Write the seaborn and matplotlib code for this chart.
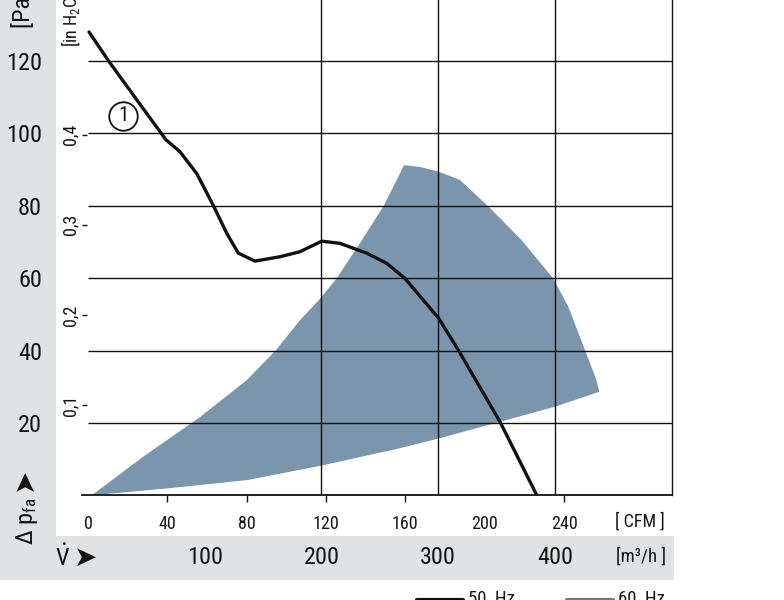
import numpy as np
import pandas as pd
import matplotlib
matplotlib.use("Agg")
import matplotlib.pyplot as plt
import seaborn as sns
from matplotlib.patches import Rectangle
from matplotlib.lines import Line2D
from matplotlib import font_manager

# ---------------- data (flow in m3/h, pressure in Pa) ----------------
curve_50_flow = [0.9, 17.4, 40.3, 66.8, 78.8, 93.1, 107.3, 118.8, 128.7, 143.0,
                 164.5, 181.6, 200.2, 215.8, 238.7, 255.8, 271.5, 300.4, 317.2,
                 352.9, 384.3]
curve_50_pa = [128.0, 120.1, 109.9, 98.2, 94.9, 88.9, 80.1, 72.4, 66.9, 64.7,
               65.9, 67.3, 70.2, 69.6, 66.9, 64.1, 59.9, 48.9, 40.1, 20.3, 0.1]

area_60_flow = [3.2, 67.9, 136.4, 199.8, 267.2, 300.4, 352.9, 400.3, 437.9,
                435.6, 425.7, 411.4, 398.5, 371.4, 342.6, 318.6, 300.4, 284.4,
                270.7, 253.5, 233.0, 213.0, 197.9, 181.6, 161.0, 135.9, 95.9, 47.4]
area_60_pa = [0.0, 1.9, 4.2, 8.2, 13.0, 15.7, 20.3, 24.5, 28.6,
              31.8, 40.1, 52.1, 59.9, 70.5, 79.9, 87.1, 89.4, 90.7,
              91.2, 80.1, 69.7, 59.9, 54.0, 48.4, 40.1, 31.8, 21.6, 10.7]

pa_ticks = [20, 40, 60, 80, 100, 120]
inh2o_ticks = [0.1, 0.2, 0.3, 0.4]
inh2o_labels = ["0,1", "0,2", "0,3", "0,4"]
cfm_ticks = [0, 40, 80, 120, 160, 200, 240]
m3h_ticks = [100, 200, 300, 400]
grid_flow = [200, 300, 400]
marker_flow, marker_pa = 30.0, 104.8

CFM_TO_M3H = 1.699
PA_PER_INH2O = 249.09

# ---------------- style ----------------
sns.set_style("white")
names = {f.name for f in font_manager.fontManager.ttflist}
narrow = [n for n in ["Roboto Condensed", "Liberation Sans Narrow", "Open Sans Condensed",
                      "DejaVu Sans Condensed"] if n in names]
BASE = (narrow[:1] or ["Liberation Sans"])[0]
FONT = [BASE, "Liberation Sans", "DejaVu Sans"]
plt.rcParams["font.family"] = FONT
plt.rcParams["mathtext.fontset"] = "custom"
plt.rcParams["mathtext.rm"] = BASE
plt.rcParams["mathtext.it"] = BASE
TXT = "#151515"
GRAY = "#e1e2e4"
FILL = "#7b95ac"

W, H = 784, 600
fig = plt.figure(figsize=(W / 100, H / 100), dpi=100)

X0, PXF = 88.0, 1.1675   # pixel of 0 m3/h, px per m3/h
Y0, PXP = 495.3, 3.62    # pixel of 0 Pa, px per Pa
xmin, xmax = -5, 500
ymin, ymax = 0, 140
left = X0 + xmin * PXF
right = X0 + xmax * PXF
top = Y0 - ymax * PXP
ax = fig.add_axes([left / W, (H - Y0) / H, (right - left) / W, (Y0 - top) / H])
ax.set_xlim(xmin, xmax)
ax.set_ylim(ymin, ymax)


def fx(px):
    return px / W


def fy(py):
    return 1 - py / H


# gray L-shaped band
fig.patches.append(Rectangle((0, fy(580)), fx(56), 580 / H, transform=fig.transFigure,
                             facecolor=GRAY, edgecolor="none", zorder=-5))
fig.patches.append(Rectangle((0, fy(580)), fx(674), 44 / H, transform=fig.transFigure,
                             facecolor=GRAY, edgecolor="none", zorder=-5))

# 60 Hz operating area
ax.fill(area_60_flow, area_60_pa, color=FILL, lw=0, zorder=1)

# grid
ax.hlines(pa_ticks, 0, xmax, color="#111111", lw=1.0, zorder=2)
ax.vlines(grid_flow, ymin, ymax, color="#111111", lw=1.0, zorder=2)

# 50 Hz curve
df = pd.DataFrame({"flow": curve_50_flow, "pa": curve_50_pa})
sns.lineplot(data=df, x="flow", y="pa", ax=ax, color="#111111", lw=2.4,
             sort=False, estimator=None, zorder=4)
ax.plot([marker_flow], [marker_pa], marker="o", ms=20.5, mfc="white", mec="#111111",
        mew=1.3, zorder=5)
ax.text(marker_flow, marker_pa, "1", ha="center", va="center", fontsize=15,
        color=TXT, zorder=6)

ax.set_xlabel("")
ax.set_ylabel("")

# spines
for s in ["left", "top"]:
    ax.spines[s].set_visible(False)
ax.spines["right"].set_color("#111111")
ax.spines["right"].set_linewidth(1.0)
ax.spines["bottom"].set_color("#111111")
ax.spines["bottom"].set_linewidth(1.3)

# CFM ticks (main x axis)
ax.set_xticks([c * CFM_TO_M3H for c in cfm_ticks])
ax.set_xticklabels([str(c) for c in cfm_ticks])
ax.tick_params(axis="x", direction="out", length=5, width=1, pad=9.0,
               labelsize=13, colors="#111111", labelcolor=TXT, bottom=True)
xt = ax.xaxis.get_major_ticks()
xt[0].tick1line.set_visible(False)
xt[5].tick1line.set_visible(False)

# Pa ticks
ax.set_yticks(pa_ticks)
ax.set_yticklabels([str(p) for p in pa_ticks])
ax.tick_params(axis="y", length=0, pad=28.9, labelsize=17.5, labelcolor=TXT, left=True)

# in H2O secondary axis
sec = ax.secondary_yaxis("left", functions=(lambda p: p / PA_PER_INH2O,
                                             lambda h: h * PA_PER_INH2O))
sec.set_yticks(inh2o_ticks)
sec.set_yticklabels(inh2o_labels)
sec.tick_params(direction="in", length=3.3, width=1, pad=2.3, labelsize=13,
                labelrotation=90, colors="#111111", labelcolor=TXT)
sec.spines["left"].set_visible(False)
for lab in sec.get_yticklabels():
    lab.set_va("center")

# m3/h secondary axis
sec2 = ax.secondary_xaxis("bottom")
sec2.set_xticks(m3h_ticks)
sec2.set_xticklabels([str(m) for m in m3h_ticks])
sec2.tick_params(length=0, pad=36.3, labelsize=17.5, labelcolor=TXT)
sec2.spines["bottom"].set_visible(False)

# unit labels
fig.text(fx(640), fy(522), "[ CFM ]", ha="center", va="center", fontsize=13, color=TXT)
fig.text(fx(641), fy(557), "[m³/h ]", ha="center", va="center", fontsize=13.5, color=TXT)
fig.text(fx(23.5), fy(28.3), "[Pa ]", rotation=90, ha="center", va="bottom",
         fontsize=17.5, color=TXT)
fig.text(fx(70.5), fy(46.7), r"[in H$_\mathregular{2}$O ]", rotation=90, ha="center",
         va="bottom", fontsize=13, color=TXT)

# axis symbols
fig.text(fx(27), fy(545), r"Δ p$_\mathregular{fa}$", rotation=90, ha="center",
         va="bottom", fontsize=17.5, color=TXT)
fig.text(fx(24), fy(479), "➤", rotation=90, ha="center", va="center",
         fontsize=20, color=TXT, family=["DejaVu Sans"])
fig.text(fx(63), fy(558), r"$\dot{\mathregular{V}}$", ha="center", va="center",
         fontsize=17.5, color=TXT)
fig.text(fx(86), fy(558), "➤", ha="center", va="center",
         fontsize=20, color=TXT, family=["DejaVu Sans"])

# legend (cut at the bottom edge)
fig.add_artist(Line2D([fx(417), fx(463)], [fy(600), fy(600)], color="#111111", lw=3,
                      transform=fig.transFigure))
fig.text(fx(468), fy(590.5), "50  Hz", ha="left", va="top", fontsize=13.5, color=TXT)
fig.add_artist(Line2D([fx(567), fx(613)], [fy(600), fy(600)], color="#777777", lw=3,
                      transform=fig.transFigure))
fig.text(fx(618), fy(590.5), "60  Hz", ha="left", va="top", fontsize=13.5, color=TXT)

fig.savefig("out.png", dpi=100)
